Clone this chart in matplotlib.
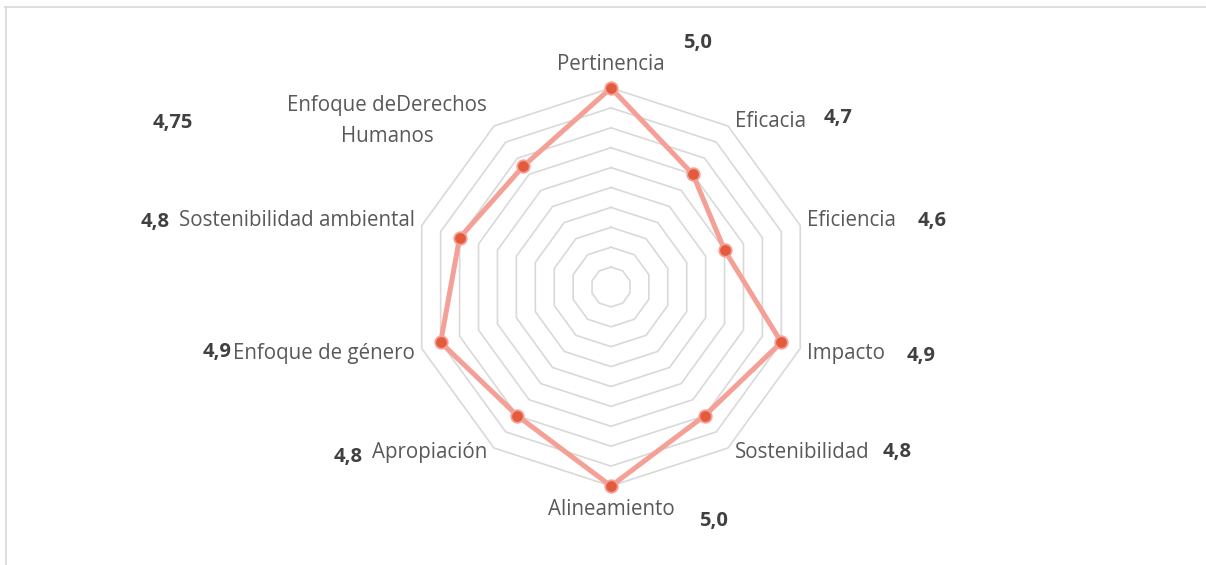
import numpy as np
import matplotlib
matplotlib.use("Agg")
import matplotlib.pyplot as plt
from matplotlib.lines import Line2D

# ---- data ----
categories = ["Pertinencia", "Eficacia", "Eficiencia", "Impacto", "Sostenibilidad",
              "Alineamiento", "Apropiación", "Enfoque de género",
              "Sostenibilidad ambiental", "Enfoque deDerechos\nHumanos"]
values = [5.0, 4.7, 4.6, 4.9, 4.8, 5.0, 4.8, 4.9, 4.8, 4.75]
value_labels = ["5,0", "4,7", "4,6", "4,9", "4,8", "5,0", "4,8", "4,9", "4,8", "4,75"]
ring_levels = [4.1, 4.2, 4.3, 4.4, 4.5, 4.6, 4.7, 4.8, 4.9, 5.0]
r_min, r_max = 4.0, 5.0

# layout of the free-floating value text boxes (pixel centres in the 1206x565 figure)
value_label_px = [(698, 43), (838, 118), (932, 221), (921, 356), (897, 452),
                  (714, 521), (348, 457), (217, 352), (155, 222), (173, 123)]

W, H = 1206, 565
plt.rcParams['font.family'] = ['Open Sans', 'DejaVu Sans']
fig = plt.figure(figsize=(W / 100, H / 100), dpi=100)
fig.patch.set_facecolor("white")

# frame lines (top and left)
fig.add_artist(Line2D([5 / W, 1.0], [1 - 7 / H, 1 - 7 / H], color="#D9D9D9", lw=1.2))
fig.add_artist(Line2D([6 / W, 6 / W], [1 - 7 / H, 0.0], color="#D9D9D9", lw=1.2))

cx, cy, rad = 611, 287, 199
ax = fig.add_axes([(cx - rad) / W, 1 - (cy + rad) / H, 2 * rad / W, 2 * rad / H],
                  projection="polar")
ax.set_theta_zero_location("N")
ax.set_theta_direction(-1)
ax.set_ylim(r_min, r_max)
ax.grid(False)
ax.spines["polar"].set_visible(False)
ax.set_xticks([])
ax.set_yticks([])
ax.patch.set_alpha(0)

n = len(categories)
angles = np.linspace(0, 2 * np.pi, n, endpoint=False)
closed = np.append(angles, angles[0])

for lvl in ring_levels:
    ax.plot(closed, [lvl] * (n + 1), color="#D9D9D9", lw=1.2, zorder=1, clip_on=False)

vals_closed = values + values[:1]
ax.plot(closed, vals_closed, color="#F4A096", lw=3.6, zorder=3, clip_on=False,
        solid_joinstyle="round")
ax.plot(angles, values, linestyle="none", marker="o", markersize=9,
        markerfacecolor="#E45A3C", markeredgecolor="#F4A096", markeredgewidth=1.3,
        zorder=4, clip_on=False)

# category labels
for ang, lab in zip(angles, categories):
    s, c = np.sin(ang), np.cos(ang)
    if abs(s) < 0.1:
        ha = "center"
        va = "bottom" if c > 0 else "top"
        off = (0, 13 * np.sign(c))
    else:
        ha = "left" if s > 0 else "right"
        va = "center"
        off = (7 * np.sign(s), 5 * np.sign(c))
    ax.annotate(lab, xy=(ang, r_max), xytext=off, textcoords="offset pixels",
                ha=ha, va=va, fontsize=14.8, color="#595959",
                multialignment="center", linespacing=1.6, annotation_clip=False)

# value labels
for (px, py), txt in zip(value_label_px, value_labels):
    fig.text(px / W, 1 - py / H, txt, ha="center", va="center",
             fontsize=14.5, fontweight="bold", color="#404040")

fig.savefig("out.png", dpi=100, facecolor="white")
